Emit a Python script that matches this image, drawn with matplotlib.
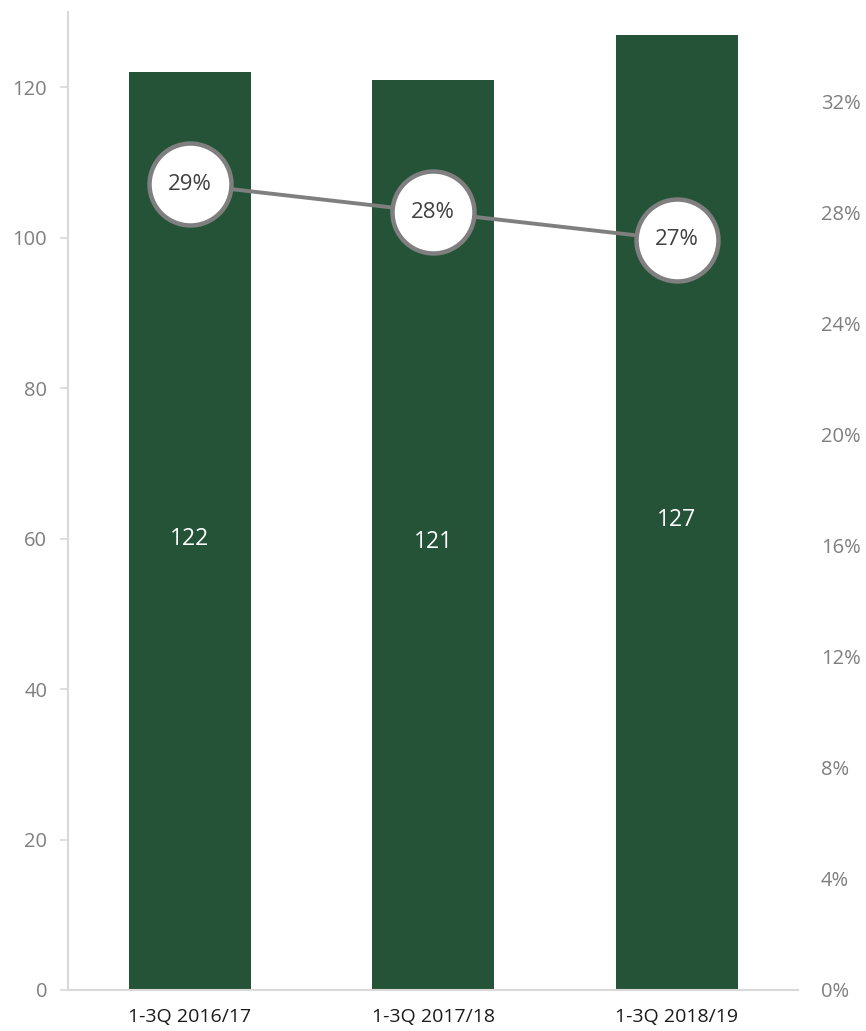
import matplotlib.pyplot as plt
from matplotlib.ticker import FuncFormatter

plt.rcParams['font.family'] = ['Open Sans', 'DejaVu Sans']

periods = ['1-3Q 2016/17', '1-3Q 2017/18', '1-3Q 2018/19']
volumes = [122, 121, 127]
shares = [0.29, 0.28, 0.27]

BAR = '#245337'
GREY = '#7f7f7f'
AXIS = '#d9d9d9'

fig = plt.figure(figsize=(8.66, 10.31), dpi=100)
ax = fig.add_axes([0.0785, 0.0398, 0.8435, 0.9484])
x = range(len(periods))

ax.bar(x, volumes, width=0.5, color=BAR, zorder=2)
for i, v in enumerate(volumes):
    ax.text(i, v / 2 - 1, str(v), ha='center', va='center', color='white', fontsize=16.5)

ax.set_xlim(-0.5, 2.5)
ax.set_ylim(0, 130)
ax.set_yticks(range(0, 121, 20))
ax.set_xticks(list(x))
ax.set_xticklabels(periods, fontsize=14, color='#1a1a1a')
ax.tick_params(axis='x', length=0, pad=13)
ax.tick_params(axis='y', length=6, width=1.2, color=AXIS, labelcolor=GREY,
               labelsize=14.5, pad=9)
for s in ['top', 'right']:
    ax.spines[s].set_visible(False)
for s in ['left', 'bottom']:
    ax.spines[s].set_color(AXIS)
    ax.spines[s].set_linewidth(1.5)

# share on the secondary axis
ax2 = ax.twinx()
ax2.set_ylim(0, 0.352)
ax2.set_yticks([i * 0.04 for i in range(9)])
ax2.yaxis.set_major_formatter(FuncFormatter(lambda v, p: f'{v:.0%}'))
ax2.tick_params(axis='y', length=0, labelcolor=GREY, labelsize=14.5, pad=16)
for s in ax2.spines.values():
    s.set_visible(False)

ax2.plot(list(x), shares, color=GREY, lw=2.8, marker='o', markersize=59,
         markerfacecolor='white', markeredgecolor=GREY, markeredgewidth=3.2,
         zorder=3)
for i, s in enumerate(shares):
    ax2.text(i, s, f'{s:.0%}', ha='center', va='center', color='#404040',
             fontsize=16, zorder=4)

fig.savefig('out.png', dpi=100)
